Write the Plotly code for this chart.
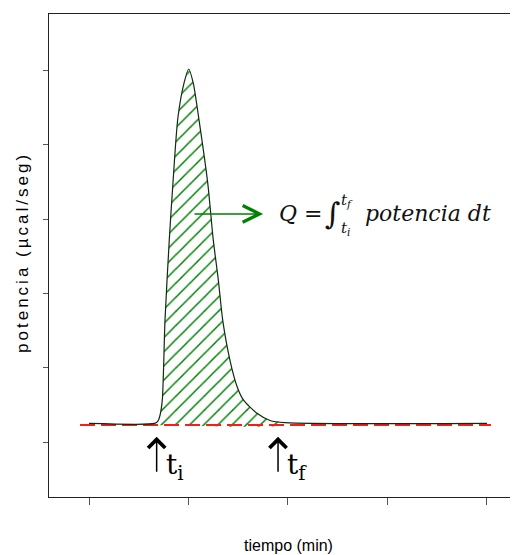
import plotly.graph_objects as go

# ---- data ----
tiempo = [0, 6.6, 6.93, 7.14, 7.37, 7.64, 8.07, 8.44, 8.94, 9.55, 10.02, 10.48,
          11.02, 11.93, 12.49, 13.0, 13.44, 14.17, 14.9, 15.5, 16.85, 18.19, 19.7, 40]
potencia = [0.25, 0.25, 0.28, 0.36, 0.57, 1.64, 2.72, 3.49, 4.37, 4.83, 5.02, 4.83,
            4.37, 3.49, 2.72, 2.18, 1.64, 1.10, 0.74, 0.57, 0.39, 0.29, 0.26, 0.25]
linea_base_x = [-0.9, 40.4]
linea_base_y = [0.23, 0.23]
t_inicio = 6.8
t_final = 19.0
x_ticks = [0, 10, 20, 30, 40]
y_ticks = [0, 1, 2, 3, 4, 5]

# region of integration (between the first and last raised points)
i0 = 1
i1 = len(tiempo) - 2
fill_x = tiempo[i0:i1 + 1] + [tiempo[i1], tiempo[i0]]
fill_y = potencia[i0:i1 + 1] + [linea_base_y[0], linea_base_y[0]]

fig = go.Figure()
fig.add_trace(go.Scatter(
    x=fill_x, y=fill_y, mode="lines", fill="toself",
    line=dict(width=0, color="rgba(0,0,0,0)", shape="spline", smoothing=0.7),
    fillcolor="white",
    fillpattern=dict(shape="/", fgcolor="#008000", fgopacity=1, bgcolor="white",
                     size=10, solidity=0.15),
    hoverinfo="skip", showlegend=False))
fig.add_trace(go.Scatter(
    x=linea_base_x, y=linea_base_y, mode="lines",
    line=dict(color="#ff1a1a", width=2, dash="15px,6px"), showlegend=False))
fig.add_trace(go.Scatter(
    x=tiempo, y=potencia, mode="lines",
    line=dict(color="#0f2a0f", width=1.2, shape="spline", smoothing=0.7), showlegend=False))

serif = "DejaVu Serif, Liberation Serif, serif"
sans = "Liberation Sans, Arial, sans-serif"

# arrows at t_i and t_f
for t in (t_inicio, t_final):
    fig.add_annotation(x=t, y=0.07, ax=t, ay=-0.42, xref="x", yref="y", axref="x", ayref="y",
                       text="", showarrow=True, arrowhead=4, arrowsize=2.2, arrowwidth=1.5,
                       arrowcolor="black")
fig.add_annotation(x=t_inicio + 0.85, y=-0.33, xref="x", yref="y", xanchor="left", yanchor="middle",
                   text="t<sub>i</sub>", showarrow=False, borderpad=0,
                   font=dict(family=serif, size=28, color="black"))
fig.add_annotation(x=t_final + 0.85, y=-0.33, xref="x", yref="y", xanchor="left", yanchor="middle",
                   text="t<sub>f</sub>", showarrow=False, borderpad=0,
                   font=dict(family=serif, size=28, color="black"))

# green arrow to the formula
fig.add_annotation(x=17.5, y=3.07, ax=10.45, ay=3.07, xref="x", yref="y", axref="x", ayref="y",
                   text="", showarrow=True, arrowhead=5, arrowsize=2.2, arrowwidth=1.5,
                   arrowcolor="#008000")

# formula pieces
fml = dict(family=serif, size=22, color="#111111", style="italic")
fig.add_annotation(x=19.0, y=3.07, xref="x", yref="y", xanchor="left", yanchor="middle",
                   text="Q =", showarrow=False, borderpad=0, font=fml)
fig.add_annotation(x=23.6, y=3.08, xref="x", yref="y", xanchor="left", yanchor="middle",
                   text="∫", showarrow=False, borderpad=0,
                   font=dict(family=serif, size=30, color="#111111"))
fig.add_annotation(x=25.2, y=3.25, xref="x", yref="y", xanchor="left", yanchor="middle",
                   text="t<sub>f</sub>", showarrow=False, borderpad=0,
                   font=dict(family=serif, size=15, color="#111111", style="italic"))
fig.add_annotation(x=25.2, y=2.88, xref="x", yref="y", xanchor="left", yanchor="middle",
                   text="t<sub>i</sub>", showarrow=False, borderpad=0,
                   font=dict(family=serif, size=15, color="#111111", style="italic"))
fig.add_annotation(x=27.6, y=3.07, xref="x", yref="y", xanchor="left", yanchor="middle",
                   text="potencia dt", showarrow=False, borderpad=0, font=fml)

# axis titles
fig.add_annotation(x=-0.058, y=0.507, xref="paper", yref="paper", xanchor="center", yanchor="middle",
                   text='<span style="letter-spacing:3px">potencia (µcal/seg)</span>',
                   textangle=-90, showarrow=False, font=dict(family=sans, size=17, color="black"))
fig.add_annotation(x=0.5096, y=-0.101, xref="paper", yref="paper", xanchor="center", yanchor="middle",
                   text="tiempo (min)", showarrow=False, font=dict(family=sans, size=16, color="black"))

# the page body adds an 8px offset, so the figure is 8px smaller with 8px less margin
fig.update_layout(
    width=510, height=547,
    margin=dict(l=41, r=0, t=6, b=58),
    paper_bgcolor="white", plot_bgcolor="white",
    showlegend=False,
    xaxis=dict(range=[-4.02, 43.12], tickvals=x_ticks, showticklabels=False, ticks="outside",
               ticklen=7, tickwidth=1, tickcolor="#555555", showgrid=False, zeroline=False,
               showline=True, linecolor="#222222", linewidth=1, mirror=True),
    yaxis=dict(range=[-0.74, 5.76], tickvals=y_ticks, showticklabels=False, ticks="outside",
               ticklen=5, tickwidth=1, tickcolor="#555555", showgrid=False, zeroline=False,
               showline=True, linecolor="#222222", linewidth=1),
)

fig.write_html("out.html")
